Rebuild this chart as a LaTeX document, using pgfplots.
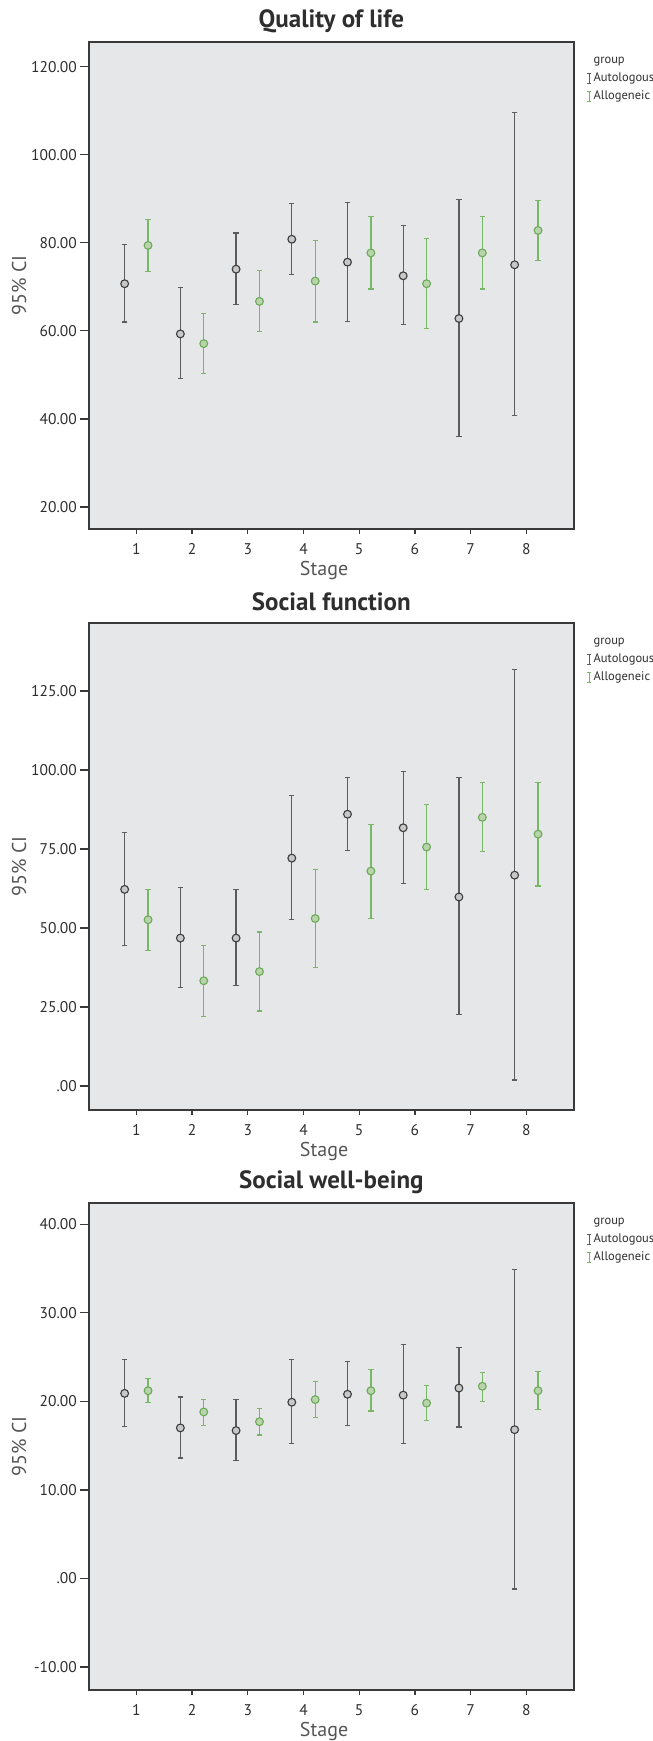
\documentclass[border=0pt]{standalone}
\usepackage{fontspec}
\setmainfont{PT Sans}
\usepackage{pgfplots}
\usepackage{pgfplotstable}
\pgfplotsset{compat=1.18}

\definecolor{bgcol}{HTML}{E6E7E9}
\definecolor{framecol}{HTML}{3A3A3A}
\definecolor{autedge}{HTML}{3C3C3C}
\definecolor{autfill}{HTML}{C8C8C8}
\definecolor{autbar}{HTML}{5C5C5C}
\definecolor{alledge}{HTML}{6AAA58}
\definecolor{allfill}{HTML}{B9D4AA}
\definecolor{allbar}{HTML}{7AB668}
\definecolor{txtcol}{HTML}{2E2E2E}
\definecolor{labcol}{HTML}{555555}

% columns: stage, mean, lower CI, upper CI
\pgfplotstableread{
s m lo hi
1 70.7 62.0 79.6
2 59.3 49.1 69.8
3 74.0 66.0 82.2
4 80.8 72.8 89.0
5 75.6 62.2 89.2
6 72.5 61.4 83.9
7 62.8 36.0 89.8
8 75.0 40.7 109.5
}\qolaut
\pgfplotstableread{
s m lo hi
1 79.4 73.5 85.3
2 57.1 50.3 63.9
3 66.7 59.9 73.7
4 71.3 62.0 80.6
5 77.7 69.5 85.9
6 70.7 60.6 81.0
7 77.7 69.5 85.9
8 82.8 75.9 89.6
}\qolall
\pgfplotstableread{
s m lo hi
1 62.2 44.4 80.2
2 46.8 31.2 62.9
3 46.8 31.7 62.2
4 72.1 52.7 92.0
5 86.0 74.5 97.5
6 81.7 64.1 99.6
7 59.8 22.6 97.5
8 66.7 1.9 131.8
}\sfaut
\pgfplotstableread{
s m lo hi
1 52.6 42.9 62.1
2 33.3 22.1 44.4
3 36.2 23.7 48.7
4 53.0 37.6 68.4
5 68.0 53.0 82.8
6 75.6 62.2 89.1
7 85.0 74.3 96.1
8 79.7 63.3 96.1
}\sfall
\pgfplotstableread{
s m lo hi
1 20.9 17.2 24.7
2 17.0 13.6 20.5
3 16.7 13.3 20.2
4 19.9 15.2 24.7
5 20.8 17.3 24.5
6 20.7 15.2 26.4
7 21.5 17.1 26.1
8 16.8 -1.2 34.9
}\swaut
\pgfplotstableread{
s m lo hi
1 21.2 19.9 22.6
2 18.8 17.3 20.2
3 17.7 16.2 19.2
4 20.2 18.2 22.2
5 21.2 18.9 23.6
6 19.8 17.8 21.8
7 21.7 20.0 23.3
8 21.2 19.1 23.4
}\swall

\pgfplotsset{
  panel/.style={
    scale only axis,
    width=484.7bp, height=487bp,
    xmin=0.15, xmax=8.85,
    xtick={1,2,3,4,5,6,7,8},
    xticklabels={1,2,3,4,5,6,7,8},
    tick pos=left,
    tick align=outside,
    major tick length=9bp,
    xtick style={/pgfplots/major tick length=5bp},
    every tick/.style={framecol, line width=1.3bp},
    axis line style={framecol, line width=1.7bp},
    axis background/.style={fill=bgcol},
    ticklabel style={font=\fontsize{15.5bp}{18bp}\selectfont, text=txtcol},
    xticklabel style={inner sep=0pt, anchor=north, yshift=-5bp},
    yticklabel style={inner sep=0pt, anchor=east, xshift=-3bp},
    title style={font=\bfseries\fontsize{25bp}{28bp}\selectfont, text=txtcol,
      at={(axis description cs:0.5,1)}, anchor=center, yshift=15bp},
    xlabel={Stage},
    ylabel={95\% CI},
    label style={font=\fontsize{20bp}{24bp}\selectfont, text=labcol, inner sep=0pt},
    xlabel style={at={(axis description cs:0.485,0)}, anchor=center, yshift=-41.5bp},
    ylabel style={at={(axis description cs:-0.1444,0.5)}, anchor=center},
    legend style={at={(1,1)}, anchor=north west, xshift=13bp, yshift=-11bp,
      draw=none, fill=none, inner sep=0pt,
      font=\fontsize{12.5bp}{14bp}\selectfont, text=txtcol,
      nodes={inner sep=1bp, text height=9bp, text depth=3bp, anchor=west},
      row sep=4bp, column sep=1bp},
    legend cell align=left,
  },
  autstyle/.style={only marks, mark=*, mark size=3.9bp,
    mark options={draw=autedge, fill=autfill, line width=1.1bp},
    /pgfplots/error bars/y dir=both, /pgfplots/error bars/y explicit,
    /pgfplots/error bars/error bar style={autbar, line width=1.2bp},
    /pgfplots/error bars/error mark options={rotate=90, autbar, mark size=2.6bp, line width=1.2bp}},
  allstyle/.style={only marks, mark=*, mark size=3.9bp,
    mark options={draw=alledge, fill=allfill, line width=1.1bp},
    /pgfplots/error bars/y dir=both, /pgfplots/error bars/y explicit,
    /pgfplots/error bars/error bar style={allbar, line width=1.2bp},
    /pgfplots/error bars/error mark options={rotate=90, allbar, mark size=2.6bp, line width=1.2bp}},
  autleg/.style={legend image code/.code={
    \draw[autbar, line width=1.1bp] (0bp,-4.9bp) -- (0bp,4.9bp)
      (-1.8bp,-4.9bp) -- (1.8bp,-4.9bp) (-1.8bp,4.9bp) -- (1.8bp,4.9bp);}},
  allleg/.style={legend image code/.code={
    \draw[allbar, line width=1.1bp] (0bp,-4.9bp) -- (0bp,4.9bp)
      (-1.8bp,-4.9bp) -- (1.8bp,-4.9bp) (-1.8bp,4.9bp) -- (1.8bp,4.9bp);}},
}

\begin{document}
\begin{tikzpicture}
\useasboundingbox (0,0) rectangle (653bp,1741bp);

% Panel 1: Quality of life
\begin{axis}[panel, at={(89bp,1212bp)}, anchor=south west,
  title={Quality of life},
  ymin=15.0, ymax=125.6,
  ytick={20,40,60,80,100,120},
  yticklabels={20.00,40.00,60.00,80.00,100.00,120.00}]
\addlegendimage{empty legend}\addlegendentry{group}
\addlegendimage{autleg}\addlegendentry{Autologous}
\addlegendimage{allleg}\addlegendentry{Allogeneic}
\addplot[forget plot, autstyle] table[x expr=\thisrow{s}-0.21, y=m,
  y error plus expr=\thisrow{hi}-\thisrow{m}, y error minus expr=\thisrow{m}-\thisrow{lo}] {\qolaut};
\addplot[forget plot, allstyle] table[x expr=\thisrow{s}+0.21, y=m,
  y error plus expr=\thisrow{hi}-\thisrow{m}, y error minus expr=\thisrow{m}-\thisrow{lo}] {\qolall};
\end{axis}

% Panel 2: Social function
\begin{axis}[panel, at={(89bp,631bp)}, anchor=south west,
  title={Social function},
  ymin=-7.6, ymax=146.5,
  ytick={0,25,50,75,100,125},
  yticklabels={.00,25.00,50.00,75.00,100.00,125.00}]
\addlegendimage{empty legend}\addlegendentry{group}
\addlegendimage{autleg}\addlegendentry{Autologous}
\addlegendimage{allleg}\addlegendentry{Allogeneic}
\addplot[forget plot, autstyle] table[x expr=\thisrow{s}-0.21, y=m,
  y error plus expr=\thisrow{hi}-\thisrow{m}, y error minus expr=\thisrow{m}-\thisrow{lo}] {\sfaut};
\addplot[forget plot, allstyle] table[x expr=\thisrow{s}+0.21, y=m,
  y error plus expr=\thisrow{hi}-\thisrow{m}, y error minus expr=\thisrow{m}-\thisrow{lo}] {\sfall};
\end{axis}

% Panel 3: Social well-being
\begin{axis}[panel, at={(89bp,51bp)}, anchor=south west,
  title={Social well-being},
  ymin=-12.6, ymax=42.4,
  ytick={-10,0,10,20,30,40},
  yticklabels={-10.00,.00,10.00,20.00,30.00,40.00}]
\addlegendimage{empty legend}\addlegendentry{group}
\addlegendimage{autleg}\addlegendentry{Autologous}
\addlegendimage{allleg}\addlegendentry{Allogeneic}
\addplot[forget plot, autstyle] table[x expr=\thisrow{s}-0.21, y=m,
  y error plus expr=\thisrow{hi}-\thisrow{m}, y error minus expr=\thisrow{m}-\thisrow{lo}] {\swaut};
\addplot[forget plot, allstyle] table[x expr=\thisrow{s}+0.21, y=m,
  y error plus expr=\thisrow{hi}-\thisrow{m}, y error minus expr=\thisrow{m}-\thisrow{lo}] {\swall};
\end{axis}
\end{tikzpicture}
\end{document}
